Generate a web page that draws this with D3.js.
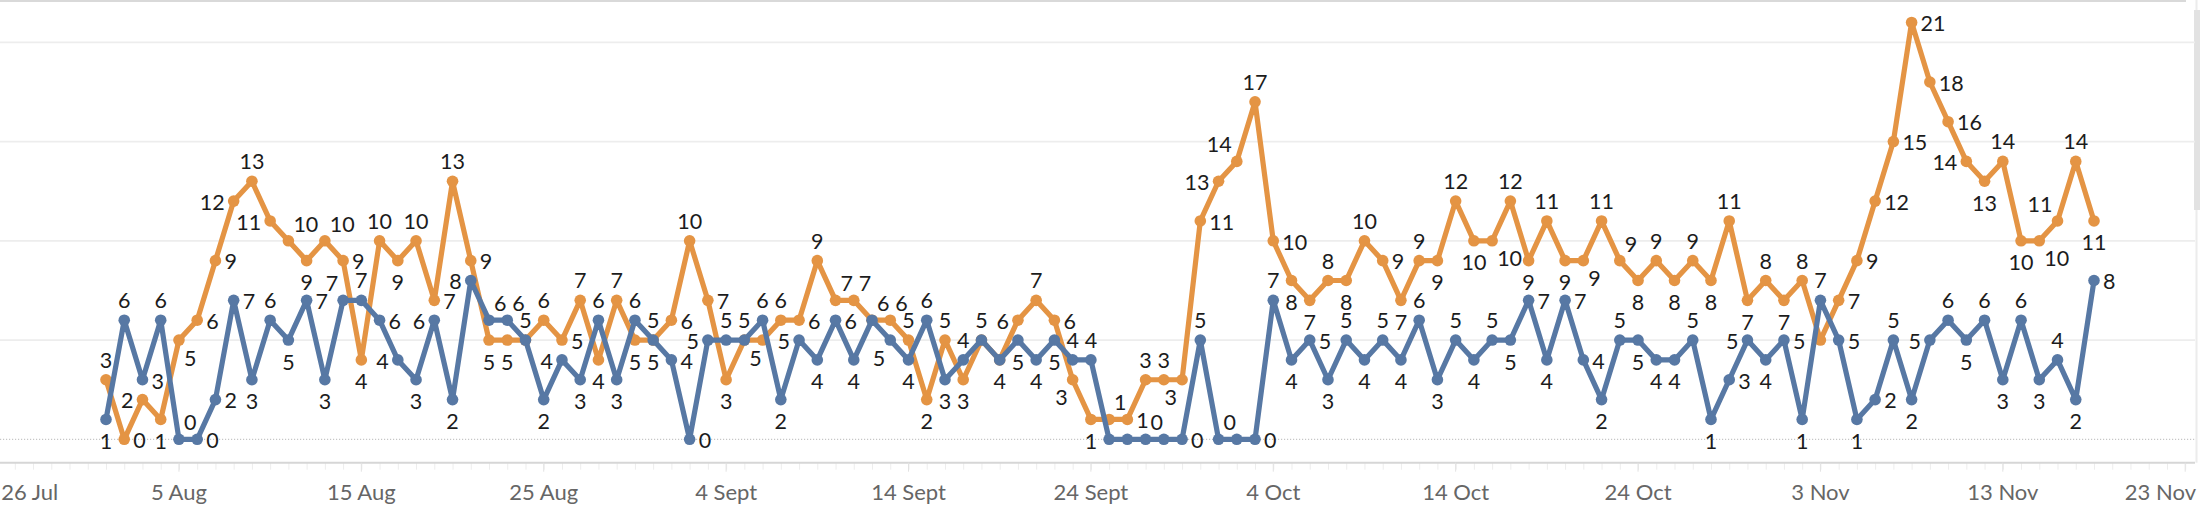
<!DOCTYPE html>
<html><head><meta charset="utf-8">
<script src="https://cdn.jsdelivr.net/npm/d3@7"></script>
<style>
html,body{margin:0;padding:0;background:#fff;overflow:hidden;}
svg{display:block;font-family:Lato,"Open Sans",sans-serif;}
</style></head><body>
<svg id="chart" width="2200" height="510"></svg>
<script>
// ---------- DATA ----------
const firstDay = "2023-08-01";
const lastDay = "2023-11-18";
const seriesBlue = [1,6,3,6,0,0,2,7,3,6, 5,7,3,7,7,6,4,3,6,2, 8,6,6,5,2,4,3,6,3,6,
  5,4,0,5,5,5,6,2,5,4, 6,4,6,5,4,6,3,4,5,4, 5,4,5,4,4,0,0,0,0,0, 5,0,0,0,7,4,5,3,5,4,
  5,4,6,3,5,4,5,5,7,4, 7,4,2,5,5,4,4,5,1,3, 5,4,5,1,7,5,1,2,5,2, 5,6,5,6,3,6,3,4,2,8];
const seriesOrange = [3,0,2,1,5,6,9,12,13,11, 10,9,10,9,4,10,9,10,7,13, 9,5,5,5,6,5,7,4,7,5,
  5,6,10,7,3,5,5,6,6,9, 7,7,6,6,5,2,5,3,5,4, 6,7,6,3,1,1,1,3,3,3, 11,13,14,17,10,8,7,8,8,10,
  9,7,9,9,12,10,10,12,9,11, 9,9,11,9,8,9,8,9,8,11, 7,8,7,8,5,7,9,12,15,21, 18,16,14,13,14,10,10,11,14,11];
const tickDates = ["2023-07-26","2023-08-05","2023-08-15","2023-08-25","2023-09-04","2023-09-14",
  "2023-09-24","2023-10-04","2023-10-14","2023-10-24","2023-11-03","2023-11-13","2023-11-23"];
const tickLabels = ["26 Jul","5 Aug","15 Aug","25 Aug","4 Sept","14 Sept","24 Sept",
  "4 Oct","14 Oct","24 Oct","3 Nov","13 Nov","23 Nov"];
const gridValues = [5,10,15,20];

// ---------- SETUP ----------
const svg = d3.select("#chart");
const parse = d3.utcParse("%Y-%m-%d");
const days = d3.utcDay.range(parse(firstDay), d3.utcDay.offset(parse(lastDay), 1));
const x = d3.scaleUtc().domain([parse(firstDay), parse(lastDay)]).range([106, 2094]);
const y = d3.scaleLinear().domain([0, 20]).range([439.3, 42.3]);
const C_BLUE = "#5778a4", C_ORANGE = "#e49444";
const axisY = 462.7;

// frame
svg.append("line").attr("x1",0).attr("x2",2186).attr("y1",1).attr("y2",1)
  .attr("stroke","#d9d9d9").attr("stroke-width",2);
svg.append("line").attr("x1",2196.5).attr("x2",2196.5).attr("y1",0).attr("y2",axisY)
  .attr("stroke","#ececec").attr("stroke-width",2);
svg.append("rect").attr("x",2194).attr("y",10).attr("width",6).attr("height",200)
  .attr("fill","#e2e2e2");

// grid
svg.append("g").selectAll("line").data(gridValues).join("line")
  .attr("x1",0).attr("x2",2195).attr("y1",d=>y(d)).attr("y2",d=>y(d))
  .attr("stroke","#ededed").attr("stroke-width",1.8);
svg.append("line").attr("x1",0).attr("x2",2195).attr("y1",y(0)).attr("y2",y(0))
  .attr("stroke","#b8b8b8").attr("stroke-width",1).attr("stroke-dasharray","1.2,1.8");

// x axis
const allDays = d3.utcDay.range(parse(tickDates[0]), d3.utcDay.offset(parse(tickDates[tickDates.length-1]),1));
const xAxis = d3.axisBottom(x).tickValues(allDays).tickSize(7).tickFormat("");
const gAx = svg.append("g").attr("transform",`translate(0,${axisY})`).call(xAxis);
gAx.select(".domain").remove();
gAx.selectAll(".tick line").attr("stroke","#ededed").attr("stroke-width",1);
svg.append("line").attr("x1",0).attr("x2",2195).attr("y1",axisY).attr("y2",axisY)
  .attr("stroke","#d6d6d6").attr("stroke-width",2);

const majorTicks = tickDates.map((d,i)=>({d:parse(d), t:tickLabels[i]}));
svg.append("g").selectAll("line").data(majorTicks).join("line")
  .attr("x1",d=>x(d.d)).attr("x2",d=>x(d.d)).attr("y1",axisY).attr("y2",axisY+9)
  .attr("stroke","#e2e2e2").attr("stroke-width",1);

const ctx = document.createElement("canvas").getContext("2d");
ctx.font = "22px Lato";
svg.append("g").selectAll("text").data(majorTicks).join("text")
  .attr("x",d=>{
    const w = ctx.measureText(d.t).width, cx = x(d.d);
    if (cx - w/2 < 0) return w/2 + 1;
    if (cx + w/2 > 2196) return 2196 - w/2;
    return cx;
  })
  .attr("y",500).attr("text-anchor","middle")
  .attr("font-size",22).attr("fill","#666").text(d=>d.t);

// ---------- LINES ----------
const series = [
  {name:"orange", color:C_ORANGE, vals:seriesOrange},
  {name:"blue", color:C_BLUE, vals:seriesBlue}
];
const line = d3.line().x(d=>x(d.date)).y(d=>y(d.v));
series.forEach(s=>{
  s.pts = s.vals.map((v,i)=>({date:days[i], v, i, x:x(days[i]), y:y(v), s}));
  svg.append("path").datum(s.pts).attr("d",line).attr("fill","none")
    .attr("stroke",s.color).attr("stroke-width",5.2).attr("stroke-linejoin","round");
  svg.append("g").selectAll("circle").data(s.pts).join("circle")
    .attr("cx",d=>d.x).attr("cy",d=>d.y).attr("r",5.8).attr("fill",s.color);
});

// ---------- LABELS (greedy collision-avoiding placement) ----------
const FS = 21.5;
ctx.font = FS + "px Lato";
const LH = 15.5;
const segs = [];
series.forEach(s=>{ for(let i=0;i<s.pts.length-1;i++) segs.push([s.pts[i], s.pts[i+1]]); });
const allPts = series.flatMap(s=>s.pts);
const placed = [];
function hitsLabels(b, strict){
  const ex = strict ? 2.5 : 0.5, up = strict ? 3.5 : 0.5, dn = strict ? 3.5 : 0.5;
  for (const p of placed) if (!(b.x1+ex < p.x0 || b.x0-ex > p.x1 || b.y1+dn < p.y0-up || b.y0-up > p.y1+dn)) return true;
  return false;
}
function hitsMarks(b){
  if (b.x0 < 0 || b.x1 > 2190 || b.y0 < 4 || b.y1 > 458) return true;
  for (const p of allPts) {
    const cx = Math.max(b.x0, Math.min(p.x, b.x1)), cy = Math.max(b.y0, Math.min(p.y, b.y1));
    if ((cx-p.x)**2 + (cy-p.y)**2 < 42) return true;
  }
  const pad = 2.8;
  for (const [a,c] of segs) {
    if (Math.max(a.x,c.x) < b.x0-pad || Math.min(a.x,c.x) > b.x1+pad) continue;
    const len = Math.hypot(c.x-a.x, c.y-a.y), n = Math.ceil(len/2);
    for (let k=0;k<=n;k++){
      const px = a.x+(c.x-a.x)*k/n, py = a.y+(c.y-a.y)*k/n;
      if (px>=b.x0-pad && px<=b.x1+pad && py>=b.y0-pad && py<=b.y1+pad) return true;
    }
  }
  return false;
}
function cand(p, w, key){
  const px=p.x, py=p.y;
  switch(key){
    case "A": return {x0:px-w/2, y1:py-12};
    case "B": return {x0:px-w/2, y1:py+14+LH};
    case "R": return {x0:px+9, y1:py+LH/2+1};
    case "L": return {x0:px-9-w, y1:py+LH/2+1};
    case "AR": return {x0:px+5, y1:py-9};
    case "AL": return {x0:px-5-w, y1:py-9};
    case "BR": return {x0:px+5, y1:py+10+LH};
    case "BL": return {x0:px-5-w, y1:py+10+LH};
  }
}
const order = [];
for (let i=0;i<seriesBlue.length;i++){ order.push(series[0].pts[i]); order.push(series[1].pts[i]); }
const labels = [];
order.forEach(p=>{
  const v = p.s.vals, i = p.i;
  const prev = i>0 ? v[i-1] : v[i], next = i<v.length-1 ? v[i+1] : v[i];
  let keys;
  if (p.v >= prev && p.v >= next && (p.v>prev || p.v>next)) keys = ["A","AR","AL","R","L","B","BR","BL"];
  else if (p.v <= prev && p.v <= next && (p.v<prev || p.v<next)) keys = ["B","BR","BL","R","L","A","AR","AL"];
  else if (prev < p.v && p.v < next) keys = ["R","L","BR","AL","A","B","AR","BL"];
  else if (prev > p.v && p.v > next) keys = ["R","L","AR","BL","A","B","AL","BR"];
  else keys = ["A","B","AR","AL","BR","BL","R","L"];
  const t = String(p.v), w = ctx.measureText(t).width;
  const boxes = keys.map(k=>{ const c = cand(p, w, k); return {x0:c.x0, x1:c.x0+w, y1:c.y1, y0:c.y1-LH}; })
    .filter(b=>!hitsMarks(b));
  let chosen = boxes.find(b=>!hitsLabels(b, true)) || boxes.find(b=>!hitsLabels(b, false));
  if (chosen) { placed.push(chosen); labels.push({x:chosen.x0, y:chosen.y1, t}); }
});
svg.append("g").selectAll("text").data(labels).join("text")
  .attr("x",d=>d.x).attr("y",d=>d.y).attr("font-size",FS).attr("fill","#1c1c1c").text(d=>d.t);
</script>
</body></html>
